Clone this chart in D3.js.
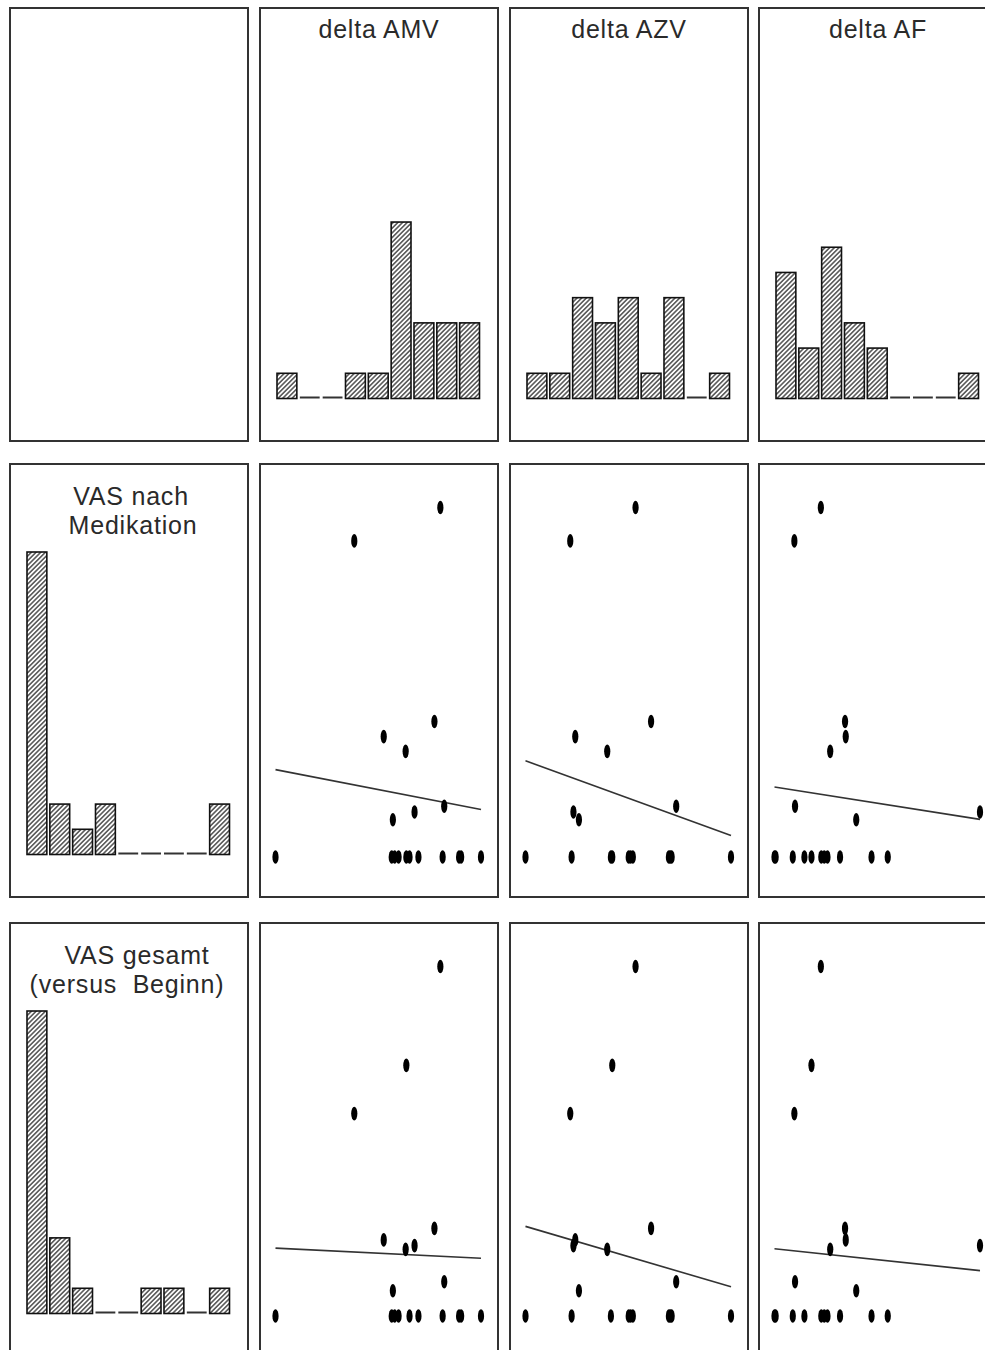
<!DOCTYPE html>
<html>
<head>
<meta charset="utf-8">
<script src="https://cdn.jsdelivr.net/npm/d3@7"></script>
<style>
  html, body { margin: 0; padding: 0; background: #fff; overflow: hidden; }
  text { font-family: "Liberation Sans", Arial, sans-serif; fill: #2a2a2a; letter-spacing: 0.8px; }
</style>
</head>
<body>
<svg id="chart" width="985" height="1350"></svg>
<script>
// Per-subject values (n = 19); index i is the same subject in every array.
const deltaAMV = [4.22, 0.45, 3.96, 1.74, 2.70, 4.39, 3.09, 2.14, 2.73,
                  -3.0, 2.09, 2.22, 2.39, 2.87, 3.26, 4.32, 5.04, 5.13, 6.0];
const deltaAZV = [91, -52, 125, -41, 29, 180, -45, -33, 40,
                  -150, -49, 37, 76, 80, 85, 164, 167, 170, 300];
const deltaAF  = [-1.97, -3.13, -0.91, -0.88, -1.56, -3.10, 5.0, -0.42, -2.38,
                  -4.0, -3.95, -3.2, -2.69, -1.95, -1.82, -1.68, -1.13, 0.25, 0.96];
const vasNach  = [45, 40.7, 17.45, 15.5, 13.6, 6.54, 5.8, 4.8, 0,
                  0, 0, 0, 0, 0, 0, 0, 0, 0, 0];
const vasGesamt = [45, 26.06, 11.28, 9.8, 8.58, 4.41, 9.06, 3.25, 32.27,
                   0, 0, 0, 0, 0, 0, 0, 0, 0, 0];

// Matrix variables: columns (x) and rows (y)
const colNames = ["delta AMV", "delta AZV", "delta AF"];
const colValues = [deltaAMV, deltaAZV, deltaAF];
const rowNames = [["VAS nach", "Medikation"], ["VAS gesamt", "(versus  Beginn)"]];
const rowValues = [vasNach, vasGesamt];
const nBins = 9;

// Panel geometry
const colLeft = [10, 260, 510, 759];
const rowTop = [8, 464, 923];
const panelW = 238, panelH = 433;
const plotX0 = 15.5, plotX1 = 221;       // data area inside a panel (x)
const plotYBottom = 393, plotYTop = 43.5; // data area inside a panel (y)
const histBase = 390.5, histMaxH = 302.5;

const svg = d3.select("#chart");

// Diagonal hatching used by the histogram bars
const hs = 3.3;
const defs = svg.append("defs");
const hp = defs.append("pattern")
  .attr("id", "hatch")
  .attr("patternUnits", "userSpaceOnUse")
  .attr("width", hs).attr("height", hs)
  .attr("patternTransform", "rotate(45)");
hp.append("rect").attr("width", hs).attr("height", hs).attr("fill", "#fff");
hp.append("line").attr("x1", hs / 2).attr("y1", 0).attr("x2", hs / 2).attr("y2", hs)
  .attr("stroke", "#222").attr("stroke-width", 1.2);

function binsOf(values) {
  const [lo, hi] = d3.extent(values);
  const w = (hi - lo) / nBins;
  const th = d3.range(1, nBins).map(i => lo + i * w);
  return d3.bin().domain([lo, hi]).thresholds(th)(values);
}

const allHists = colValues.concat(rowValues).map(binsOf);
const maxCount = d3.max(allHists, bs => d3.max(bs, b => b.length));
const countScale = d3.scaleLinear().domain([0, maxCount]).range([0, histMaxH]);

function panelFrame(left, top) {
  return svg.append("g").attr("transform", `translate(${left},${top})`);
}

function drawBorder(g) {
  g.append("rect")
    .attr("x", 0).attr("y", 0).attr("width", panelW).attr("height", panelH)
    .attr("fill", "#fff").attr("stroke", "#333").attr("stroke-width", 2);
}

function drawHistogram(g, values, bins) {
  const x = d3.scaleLinear().domain(d3.extent(values)).range([plotX0, plotX1]);
  const full = bins.filter(b => b.length > 0);
  const empty = bins.filter(b => b.length === 0);
  g.selectAll("rect.bar").data(full).join("rect")
    .attr("class", "bar")
    .attr("x", b => x(b.x0) + 1.5)
    .attr("width", b => x(b.x1) - x(b.x0) - 3)
    .attr("y", b => histBase - countScale(b.length))
    .attr("height", b => countScale(b.length))
    .attr("fill", "url(#hatch)")
    .attr("stroke", "#111").attr("stroke-width", 1.6);
  g.selectAll("line.zero").data(empty).join("line")
    .attr("class", "zero")
    .attr("x1", b => x(b.x0) + 1.5)
    .attr("x2", b => x(b.x1) - 1.5)
    .attr("y1", histBase - 1).attr("y2", histBase - 1)
    .attr("stroke", "#333").attr("stroke-width", 2);
}

function drawScatter(g, xs, ys) {
  const x = d3.scaleLinear().domain(d3.extent(xs)).range([plotX0, plotX1]);
  const y = d3.scaleLinear().domain(d3.extent(ys)).range([plotYBottom, plotYTop]);
  // least-squares fit of y on x
  const mx = d3.mean(xs), my = d3.mean(ys);
  let sxy = 0, sxx = 0;
  xs.forEach((v, i) => { sxy += (v - mx) * (ys[i] - my); sxx += (v - mx) * (v - mx); });
  const b = sxy / sxx, a = my - b * mx;
  const [xmin, xmax] = d3.extent(xs);
  g.append("line")
    .attr("x1", x(xmin)).attr("y1", y(a + b * xmin))
    .attr("x2", x(xmax)).attr("y2", y(a + b * xmax))
    .attr("stroke", "#333").attr("stroke-width", 1.6);
  g.selectAll("ellipse").data(xs.map((v, i) => [v, ys[i]])).join("ellipse")
    .attr("cx", d => x(d[0]))
    .attr("cy", d => y(d[1]))
    .attr("rx", 3.1).attr("ry", 6.8)
    .attr("fill", "#000");
}

// Row 0: empty corner + column histograms
{
  const g = panelFrame(colLeft[0], rowTop[0]);
  drawBorder(g);
}
colValues.forEach((vals, c) => {
  const g = panelFrame(colLeft[c + 1], rowTop[0]);
  drawBorder(g);
  g.append("text").attr("x", panelW / 2).attr("y", 30)
    .attr("text-anchor", "middle").attr("font-size", 25)
    .text(colNames[c]);
  drawHistogram(g, vals, allHists[c]);
});

// Rows 1-2: row histogram + scatter panels
const labelDx = [[2, 4], [8, -2]];
rowValues.forEach((yv, r) => {
  const g = panelFrame(colLeft[0], rowTop[r + 1]);
  drawBorder(g);
  rowNames[r].forEach((line, k) => {
    g.append("text")
      .attr("x", panelW / 2 + labelDx[r][k])
      .attr("y", 40.5 + k * 29)
      .attr("text-anchor", "middle").attr("font-size", 25)
      .attr("xml:space", "preserve")
      .style("white-space", "pre")
      .text(line);
  });
  drawHistogram(g, yv, allHists[colValues.length + r]);

  colValues.forEach((xv, c) => {
    const gs = panelFrame(colLeft[c + 1], rowTop[r + 1]);
    drawBorder(gs);
    drawScatter(gs, xv, yv);
  });
});
</script>
</body>
</html>
